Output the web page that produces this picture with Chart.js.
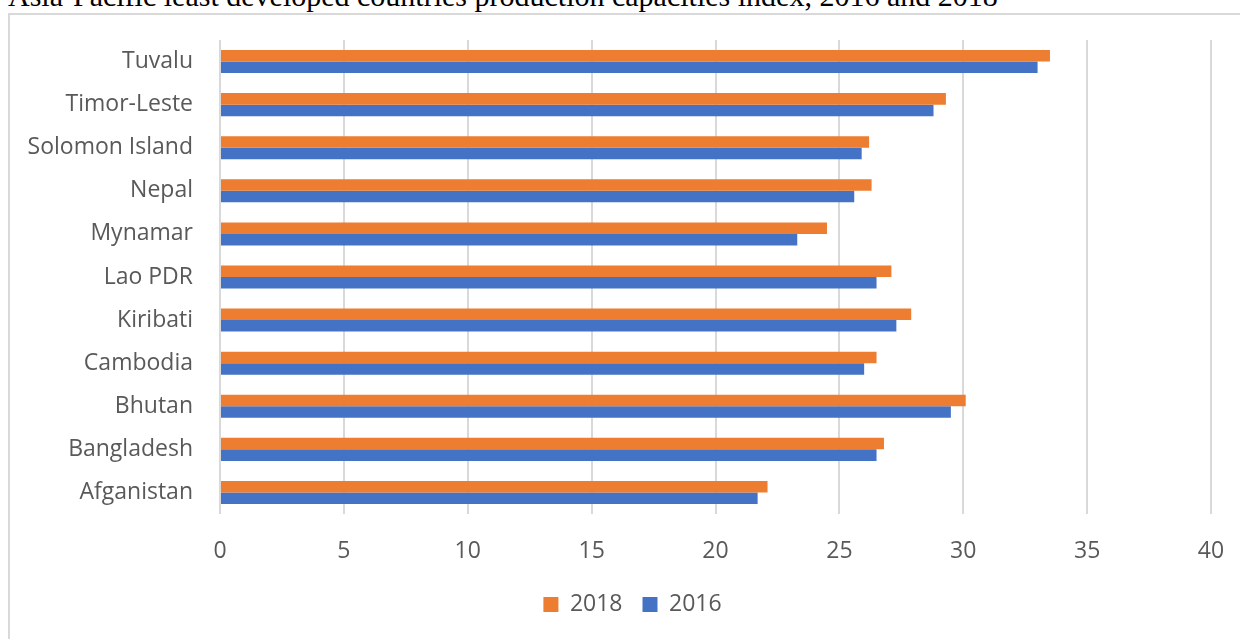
<!DOCTYPE html>
<html>
<head>
<meta charset="utf-8">
<script src="https://cdn.jsdelivr.net/npm/chart.js@4/dist/chart.umd.min.js"></script>
<style>
  html, body { margin: 0; padding: 0; background: #fff; overflow: hidden; }
  body { width: 1240px; height: 639px; position: relative; }
  #title {
    position: absolute; left: 8px; top: -19px; line-height: 30px;
    font-family: "Liberation Serif", "DejaVu Serif", serif;
    font-size: 30px; color: #000; white-space: nowrap;
  }
  #box {
    position: absolute; left: 8px; top: 13px; width: 1248px; height: 640px;
    border-left: 2px solid #d9d9d9; border-top: 2px solid #d9d9d9;
  }
  #box canvas { display: block; }
</style>
</head>
<body>
<div id="title">Asia-Pacific least developed countries production capacities index, 2016 and 2018</div>
<div id="box"><canvas id="myChart" width="1248" height="624"></canvas></div>
<script>
// Countries, top to bottom as in the chart
const countries = ['Tuvalu', 'Timor-Leste', 'Solomon Island', 'Nepal', 'Mynamar', 'Lao PDR',
                   'Kiribati', 'Cambodia', 'Bhutan', 'Bangladesh', 'Afganistan'];

// Index values
const values2018 = [33.5, 29.3, 26.2, 26.3, 24.5, 27.1, 27.9, 26.5, 30.1, 26.8, 22.1];
const values2016 = [33.0, 28.8, 25.9, 25.6, 23.3, 26.5, 27.3, 26.0, 29.5, 26.5, 21.7];

// x axis ticks
const xTicks = [0, 5, 10, 15, 20, 25, 30, 35, 40];

const labelFont = { family: 'Open Sans', size: 23 };
const textColor = '#595959';

// the original centres its legend on the whole chart box, not on the padded area
const legendShift = {
    id: 'legendShift',
    afterLayout(chart) {
        if (chart.legend) {
            chart.legend.left += 22;
            chart.legend.right += 22;
        }
    },
};

const chartConfig = {
    type: 'bar',
    data: {
        labels: countries,
        datasets: [
            { label: '2018', data: values2018, backgroundColor: '#ED7D31' },
            { label: '2016', data: values2016, backgroundColor: '#4472C4' },
        ],
    },
    options: {
        indexAxis: 'y',
        responsive: false,
        animation: false,
        barPercentage: 1,
        categoryPercentage: 0.535,
        layout: { padding: { left: 0, right: 47, top: 25, bottom: 13 } },
        scales: {
            x: {
                min: xTicks[0],
                max: xTicks[xTicks.length - 1],
                afterBuildTicks: axis => { axis.ticks = xTicks.map(v => ({ value: v })); },
                afterFit: axis => { axis.height = 59; },
                grid: { color: '#d9d9d9', lineWidth: 2, drawTicks: false },
                border: { display: false },
                ticks: { color: textColor, font: labelFont, padding: 24 },
            },
            y: {
                afterFit: axis => { axis.width = 210; },
                // invisible tick marks give the label gap without extra top padding
                grid: { display: true, drawOnChartArea: false, drawTicks: true, tickLength: 27, color: 'rgba(0,0,0,0)' },
                border: { display: false },
                ticks: { color: textColor, font: labelFont, padding: 0 },
            },
        },
        plugins: {
            legend: {
                position: 'bottom',
                labels: { color: textColor, font: labelFont, boxWidth: 15, boxHeight: 15, padding: 20 },
            },
            tooltip: { enabled: false },
        },
    },
    plugins: [legendShift],
};

const ctx = document.getElementById('myChart').getContext('2d');
new Chart(ctx, chartConfig);
</script>
</body>
</html>
